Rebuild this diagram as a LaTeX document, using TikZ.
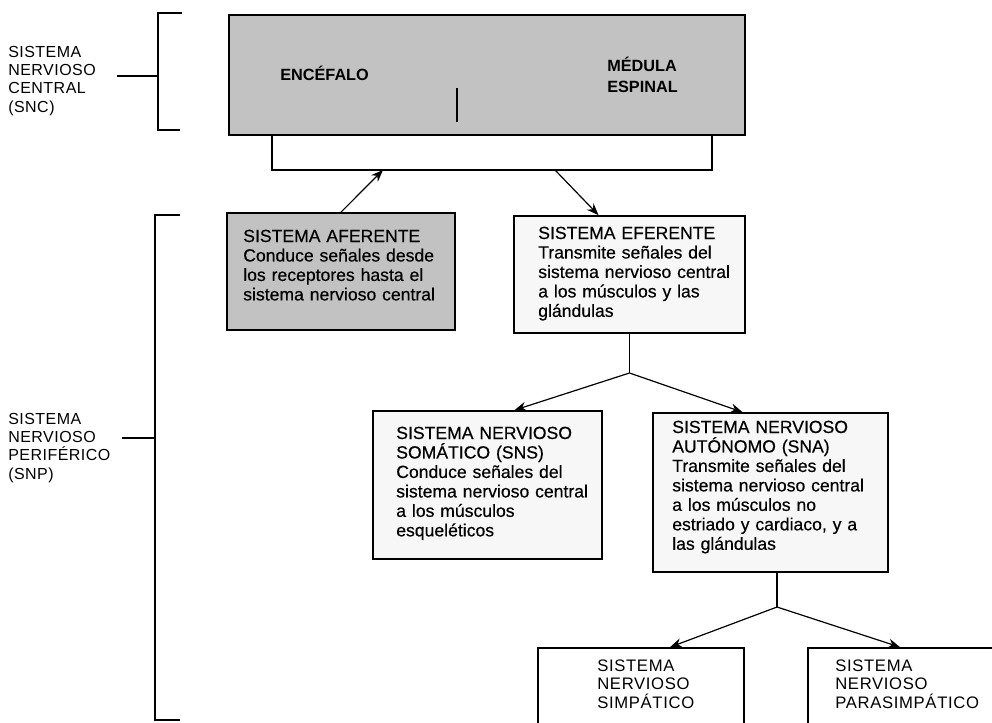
\documentclass[tikz,border=0pt]{standalone}
\usepackage{fontspec}
\setmainfont{Liberation Sans}
\usetikzlibrary{arrows.meta,fit,calc}
\begin{document}
\begin{tikzpicture}[x=0.75pt,y=-0.75pt,
  box/.style={draw=black, line width=1.3pt, inner sep=0pt},
  shaded/.style={box, fill=black!24},
  faint/.style={box, fill=black!3},
  plain/.style={box, fill=white},
  txt/.style={anchor=base west, inner sep=0pt, text width=260pt, align=left, font=\fontsize{13.2}{14.6}\selectfont\addfontfeature{FakeBold=0.4}},
  boldlbl/.style={anchor=base west, inner sep=0pt, text width=120pt, align=left, font=\bfseries\fontsize{12.2}{15.75}\selectfont},
  side/.style={anchor=base west, inner sep=0pt, text width=110pt, align=left, font=\fontsize{12}{13.8}\selectfont\addfontfeature{LetterSpace=3}},
  caps/.style={anchor=base west, inner sep=0pt, text width=160pt, align=left, font=\fontsize{12.5}{13.9}\selectfont\addfontfeature{LetterSpace=4}},
  wire/.style={line width=0.9pt},
  arr/.style={wire, -{Stealth[length=9pt,width=7pt]}},
  bracket/.style={line width=1pt}
]
\path[use as bounding box, clip] (0,0) rectangle (992,722);
\fill[white] (0,0) rectangle (992,722);

% boxes
\node[shaded, fit={(229,15) (745,135)}] (cns) {};
\node[shaded, fit={(227,213) (455,330)}] (af) {};
\node[faint, fit={(514,216) (745,333)}] (ef) {};
\node[faint, fit={(373,411) (602,559)}] (sns) {};
\node[faint, fit={(653,413) (888,572)}] (sna) {};
\node[plain, fit={(538,648) (744,760)}] (simp) {};
\node[plain, fit={(808,648) (1040,760)}] (para) {};

% texts
\node[boldlbl] (enc) at (280,80) {ENCÉFALO};
\node[boldlbl] (med) at (607,71) {MÉDULA\\ESPINAL};
\draw[line width=1.5pt] (457,88) -- (457,122);

\node[txt] (aft) at (243,242) {SISTEMA AFERENTE\\Conduce señales desde\\los receptores hasta el\\sistema nervioso central};
\node[txt] (eft) at (538,239) {SISTEMA EFERENTE\\Transmite señales del\\sistema nervioso central\\a los músculos y las\\glándulas};
\node[txt] (snst) at (396,439) {SISTEMA NERVIOSO\\SOMÁTICO (SNS)\\Conduce señales del\\sistema nervioso central\\a los músculos\\esqueléticos};
\node[txt] (snat) at (672,433) {SISTEMA NERVIOSO\\AUTÓNOMO (SNA)\\Transmite señales del\\sistema nervioso central\\a los músculos no\\estriado y cardiaco, y a\\las glándulas};
\node[caps] (simpt) at (597,671) {SISTEMA\\NERVIOSO\\SIMPÁTICO};
\node[caps] (parat) at (835,671) {SISTEMA\\NERVIOSO\\PARASIMPÁTICO};

% side labels and brackets
\node[side] (snc) at (8,57) {SISTEMA\\NERVIOSO\\CENTRAL\\(SNC)};
\node[side] (snp) at (8,424) {SISTEMA\\NERVIOSO\\PERIFÉRICO\\(SNP)};
\draw[bracket] (182,13) -- (158,13) -- (158,130) -- (180,130);
\coordinate (sncB) at (158,76);
\coordinate (sncL) at (117,76);
\draw[bracket] (sncL) -- (sncB);
\draw[bracket] (180,215) -- (155,215) -- (155,720) -- (180,720);
\coordinate (snpB) at (155,438);
\coordinate (snpL) at (122,438);
\draw[bracket] (snpL) -- (snpB);

% connectors
\coordinate (ul) at (272,170);
\coordinate (ur) at (712,170);
\draw[wire] (ul |- cns.south) -- (ul) -- (ur) -- (ur |- cns.south);
\coordinate (uin) at (383,170);
\coordinate (uout) at (555,170);
\draw[arr] (af.north) -- (uin);
\draw[arr] (uout) -- ($(ef.north)+(-31,0)$);

\coordinate (j1) at (629.5,373);
\draw[wire] (ef.south) -- (j1);
\draw[arr] (j1) -- ($(sns.north)+(27,0)$);
\draw[arr] (j1) -- ($(sna.north)+(-28,0)$);

\coordinate (j2) at (777,607);
\draw[wire] (sna.south -| j2) -- (j2);
\draw[arr] (j2) -- ($(simp.north)+(29,0)$);
\draw[arr] (j2) -- ($(para.north)+(-24,0)$);
\end{tikzpicture}
\end{document}
